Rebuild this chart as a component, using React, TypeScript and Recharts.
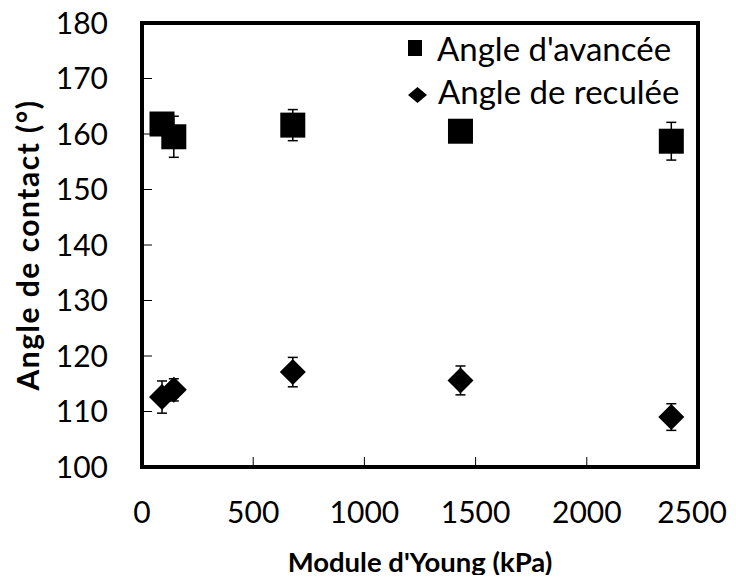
import React from "react";
import { ScatterChart, Scatter, XAxis, YAxis, ErrorBar, Legend, ReferenceArea } from "recharts";

// Module d'Young (kPa), shared by both series
const moduleYoung = [90, 143, 678, 1432, 2380];
// Angle d'avancée (°) and its error
const angleAvancee = [161.8, 159.5, 161.6, 160.5, 158.7];
const errAvancee = [1.8, 3.7, 2.8, 1.5, 3.4];
// Angle de reculée (°) and its error
const angleReculee = [112.6, 113.9, 117.1, 115.6, 109.0];
const errReculee = [2.9, 2.0, 2.65, 2.6, 2.4];

const xTicks = [0, 500, 1000, 1500, 2000, 2500];
const yTicks = [100, 110, 120, 130, 140, 150, 160, 170, 180];

const avanceeData = moduleYoung.map((x, i) => ({ x, y: angleAvancee[i], err: errAvancee[i] }));
const reculeeData = moduleYoung.map((x, i) => ({ x, y: angleReculee[i], err: errReculee[i] }));

const FONT = "Lato, 'Open Sans', sans-serif";
const frame = { stroke: "#000", strokeWidth: 4, strokeLinecap: "square" as const };
const tickStyle = { fill: "#000", fontSize: 30, fontFamily: FONT };

const SquareDot = (p: any) => (
  <rect x={p.cx - 12.5} y={p.cy - 12.5} width={25} height={25} fill="#000" />
);

const DiamondDot = (p: any) => (
  <polygon
    points={`${p.cx},${p.cy - 13} ${p.cx + 13},${p.cy} ${p.cx},${p.cy + 13} ${p.cx - 13},${p.cy}`}
    fill="#000"
  />
);

// keeps the last label (2500) inside the page, like the original
const XTick = (p: any) => (
  <text
    x={Math.min(p.x, 692)}
    y={p.y}
    dy="0.71em"
    textAnchor="middle"
    fontSize={30}
    fontFamily={FONT}
    fill="#000"
  >
    {p.payload.value}
  </text>
);

const renderLegend = (props: any) => {
  const items = props.payload ?? [];
  return (
    <svg width={310} height={100} style={{ display: "block" }}>
      <rect x={8} y={20} width={14} height={16} fill="#000" />
      <text x={37} y={41} fontSize={33} fontFamily={FONT} fill="#000">
        {items[0]?.value}
      </text>
      <polygon points="17.5,67 27,75 17.5,83 8,75" fill="#000" />
      <text x={38} y={84} fontSize={33} fontFamily={FONT} fill="#000">
        {items[1]?.value}
      </text>
    </svg>
  );
};

export default function App() {
  return (
    <div style={{ width: 736, height: 583, margin: -8, fontFamily: FONT }}>
      <ScatterChart width={736} height={583} margin={{ top: 23, right: 38, bottom: 0, left: 0 }}>
        <XAxis
          type="number"
          dataKey="x"
          domain={[0, 2500]}
          ticks={xTicks}
          interval={0}
          allowDataOverflow
          height={116}
          tickSize={-10}
          tickMargin={45}
          axisLine={frame}
          tickLine={{ stroke: "#000", strokeWidth: 1 }}
          tick={XTick}
          label={{
            value: "Module d'Young (kPa)",
            position: "insideBottom",
            offset: 11,
            style: { fontSize: 27.5, fontWeight: 700, fontFamily: FONT, fill: "#000" },
          }}
        />
        <YAxis
          type="number"
          dataKey="y"
          domain={[100, 180]}
          ticks={yTicks}
          interval={0}
          allowDataOverflow
          width={142}
          tickSize={-10}
          tickMargin={44}
          axisLine={frame}
          tickLine={{ stroke: "#000", strokeWidth: 1 }}
          tick={tickStyle}
          label={{
            value: "Angle de contact (°)",
            angle: -90,
            position: "insideLeft",
            offset: 28,
            style: {
              fontSize: 30,
              fontWeight: 700,
              fontFamily: FONT,
              fill: "#000",
              textAnchor: "middle",
              letterSpacing: 1.5,
            },
          }}
        />
        <ReferenceArea
          x1={0}
          x2={2500}
          y1={100}
          y2={180}
          fill="none"
          stroke="#000"
          strokeWidth={4}
          ifOverflow="visible"
        />
        <Legend
          layout="vertical"
          align="center"
          verticalAlign="middle"
          content={renderLegend}
          wrapperStyle={{ left: 400, top: 20, width: 310, height: 100 }}
        />
        <Scatter name="Angle d'avancée" data={avanceeData} fill="#000" shape={SquareDot} isAnimationActive={false}>
          <ErrorBar dataKey="err" direction="y" width={5} stroke="#000" strokeWidth={1.5} />
        </Scatter>
        <Scatter name="Angle de reculée" data={reculeeData} fill="#000" shape={DiamondDot} isAnimationActive={false}>
          <ErrorBar dataKey="err" direction="y" width={5} stroke="#000" strokeWidth={1.5} />
        </Scatter>
      </ScatterChart>
    </div>
  );
}
